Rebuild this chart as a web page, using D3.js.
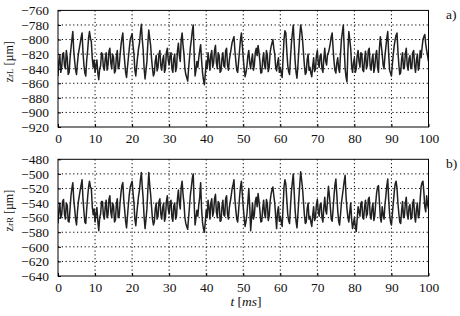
<!DOCTYPE html>
<html>
<head>
<meta charset="utf-8">
<script src="https://cdn.jsdelivr.net/npm/d3@7/dist/d3.min.js"></script>
<style>
  html, body { margin: 0; padding: 0; background: #fff; }
  svg { display: block; }
  text { font-family: "Liberation Serif", "DejaVu Serif", serif; fill: #111; }
</style>
</head>
<body>
<svg id="chart" width="460" height="316"></svg>
<script>
// time step of the samples (ms)
const timeStep = 0.25;

// z_rL samples (µm), t = 0 ... 100 ms every 0.25 ms
const zrL = [
  -850,-830,-822,-845,-838,-820,-818,-836,-840,-815,-825,-848,-845,-826,-812,-800,-789,-815,-830,-842,
  -848,-832,-820,-812,-805,-797,-791,-818,-835,-846,-850,-828,-815,-798,-789,-798,-803,-826,-838,-828,
  -845,-835,-828,-846,-855,-840,-836,-818,-820,-838,-842,-826,-818,-842,-835,-816,-812,-832,-840,-820,
  -825,-846,-843,-824,-815,-840,-837,-822,-808,-798,-791,-815,-830,-845,-852,-838,-825,-812,-800,-796,
  -792,-808,-820,-842,-850,-836,-823,-812,-805,-790,-779,-800,-815,-840,-854,-842,-830,-805,-787,-798,
  -808,-826,-840,-850,-846,-830,-822,-843,-838,-820,-815,-836,-842,-828,-822,-845,-840,-818,-812,-828,
  -835,-822,-818,-840,-845,-826,-820,-844,-838,-815,-805,-822,-830,-800,-791,-808,-820,-840,-848,-852,
  -857,-840,-825,-810,-800,-788,-780,-820,-850,-842,-830,-838,-825,-815,-807,-828,-845,-855,-862,-848,
  -830,-840,-818,-828,-842,-822,-815,-838,-832,-815,-808,-832,-840,-818,-822,-845,-843,-826,-818,-836,
  -838,-815,-812,-835,-842,-828,-820,-812,-804,-800,-796,-815,-830,-842,-845,-830,-815,-800,-791,-808,
  -825,-840,-851,-845,-836,-822,-815,-832,-840,-828,-820,-842,-835,-818,-812,-822,-808,-818,-830,-846,
  -845,-828,-818,-836,-840,-815,-822,-844,-838,-818,-810,-805,-800,-812,-820,-838,-843,-832,-825,-845,
  -838,-846,-852,-825,-800,-788,-791,-815,-835,-844,-848,-825,-805,-792,-780,-805,-830,-845,-853,-836,
  -815,-795,-780,-788,-800,-818,-835,-848,-845,-828,-820,-842,-838,-846,-851,-836,-825,-844,-840,-822,
  -815,-832,-838,-822,-820,-840,-845,-826,-812,-830,-835,-820,-818,-812,-805,-796,-791,-812,-830,-842,
  -846,-832,-825,-840,-845,-820,-800,-790,-780,-812,-840,-852,-858,-815,-789,-800,-812,-836,-845,-832,
  -825,-845,-840,-822,-815,-830,-838,-818,-820,-842,-844,-826,-816,-840,-835,-815,-812,-836,-842,-828,
  -820,-845,-838,-822,-815,-838,-845,-812,-796,-808,-820,-835,-840,-822,-810,-798,-789,-820,-842,-846,
  -850,-834,-820,-808,-800,-794,-791,-816,-835,-848,-845,-826,-818,-840,-838,-820,-812,-835,-842,-826,
  -822,-840,-838,-818,-815,-836,-845,-828,-820,-842,-836,-815,-825,-812,-800,-796,-793,-806,-815,-822,
  -830
];

// z_rR samples (µm), t = 0 ... 100 ms every 0.25 ms
const zrR = [
  -568,-550,-540,-560,-556,-538,-535,-555,-562,-540,-543,-565,-566,-548,-530,-520,-512,-535,-548,-562,
  -570,-552,-538,-530,-522,-515,-508,-535,-552,-566,-568,-548,-532,-518,-510,-518,-520,-545,-556,-548,
  -566,-555,-546,-565,-578,-560,-555,-538,-538,-556,-562,-545,-536,-560,-556,-535,-530,-552,-560,-540,
  -544,-566,-563,-542,-534,-560,-558,-540,-526,-516,-512,-535,-550,-565,-574,-558,-542,-528,-518,-514,
  -510,-526,-540,-562,-571,-556,-542,-530,-522,-508,-498,-518,-535,-560,-575,-562,-548,-522,-498,-515,
  -528,-545,-562,-570,-566,-548,-540,-562,-558,-538,-534,-555,-562,-546,-540,-565,-560,-538,-530,-548,
  -555,-540,-536,-560,-565,-544,-540,-562,-557,-534,-522,-540,-548,-518,-510,-528,-540,-560,-568,-572,
  -576,-560,-544,-528,-518,-506,-500,-540,-570,-560,-550,-558,-542,-532,-512,-548,-566,-575,-580,-566,
  -550,-560,-536,-546,-562,-540,-534,-558,-552,-534,-528,-552,-560,-538,-540,-565,-564,-546,-536,-556,
  -558,-534,-530,-555,-562,-546,-538,-530,-520,-515,-508,-535,-550,-562,-566,-550,-532,-518,-510,-528,
  -545,-560,-572,-565,-555,-538,-520,-545,-578,-560,-540,-562,-556,-538,-532,-545,-527,-538,-550,-566,
  -565,-548,-536,-555,-560,-535,-540,-564,-558,-538,-528,-522,-518,-530,-540,-558,-575,-552,-545,-565,
  -558,-566,-572,-545,-518,-508,-514,-535,-555,-564,-568,-545,-524,-512,-500,-525,-550,-565,-574,-556,
  -535,-515,-497,-508,-520,-538,-556,-568,-566,-548,-540,-562,-558,-566,-572,-556,-545,-564,-560,-542,
  -535,-552,-558,-542,-540,-560,-566,-546,-532,-550,-555,-535,-517,-530,-545,-562,-565,-548,-530,-515,
  -507,-528,-550,-565,-570,-556,-540,-530,-520,-510,-502,-532,-548,-560,-566,-552,-540,-562,-575,-568,
  -560,-572,-579,-562,-545,-552,-558,-540,-538,-560,-562,-545,-536,-558,-555,-535,-532,-556,-562,-548,
  -540,-564,-558,-540,-526,-518,-516,-538,-560,-566,-545,-556,-562,-542,-530,-516,-507,-535,-555,-566,
  -570,-555,-540,-525,-514,-510,-520,-540,-555,-566,-568,-550,-538,-560,-558,-540,-532,-555,-562,-545,
  -542,-562,-560,-540,-535,-558,-566,-548,-540,-560,-556,-535,-518,-512,-510,-525,-545,-552,-530,-542,
  -548
];

// axis ticks
const xTicks = [0, 10, 20, 30, 40, 50, 60, 70, 80, 90, 100];
const yTicksL = [-760, -780, -800, -820, -840, -860, -880, -900, -920];
const yTicksR = [-480, -500, -520, -540, -560, -580, -600, -620, -640];

// panel descriptions
const panels = [
  { values: zrL, ticks: yTicksL, tag: "a)", sub: "rL", top: 10.4, bottom: 127 },
  { values: zrR, ticks: yTicksR, tag: "b)", sub: "rR", top: 159.3, bottom: 276 }
];

const svg = d3.select("#chart");
svg.append("rect").attr("width", 460).attr("height", 316).attr("fill", "#fff");

const left = 58, right = 428.5;
const x = d3.scaleLinear().domain([0, 100]).range([left, right]);

panels.forEach((p, pi) => {
  const y = d3.scaleLinear().domain(d3.extent(p.ticks)).range([p.bottom, p.top]);
  const g = svg.append("g");

  // grid
  g.append("g").selectAll("line")
    .data(xTicks.slice(1, -1)).join("line")
    .attr("x1", d => x(d)).attr("x2", d => x(d))
    .attr("y1", p.top).attr("y2", p.bottom)
    .attr("stroke", "#000").attr("stroke-width", 1)
    .attr("stroke-dasharray", "1.2,2.6");
  g.append("g").selectAll("line")
    .data(p.ticks.slice(1, -1)).join("line")
    .attr("x1", left).attr("x2", right)
    .attr("y1", d => y(d)).attr("y2", d => y(d))
    .attr("stroke", "#000").attr("stroke-width", 1)
    .attr("stroke-dasharray", "1.2,2.6");

  // signal
  const clipId = "clip" + pi;
  svg.append("clipPath").attr("id", clipId).append("rect")
    .attr("x", left).attr("y", p.top).attr("width", right - left).attr("height", p.bottom - p.top);
  const line = d3.line().x((d, i) => x(i * timeStep)).y(d => y(d));
  g.append("path").datum(p.values)
    .attr("clip-path", `url(#${clipId})`)
    .attr("d", line)
    .attr("fill", "none").attr("stroke", "#202020")
    .attr("stroke-width", 1.5).attr("stroke-linejoin", "round");

  // axes (tick labels)
  const yAxis = d3.axisLeft(y).tickValues(p.ticks).tickSize(-3).tickPadding(9).tickFormat(d3.format("d"));
  const ya = g.append("g").attr("transform", `translate(${left},0)`).call(yAxis);
  const xAxis = d3.axisBottom(x).tickValues(xTicks).tickSize(-3).tickPadding(6).tickFormat(d3.format("d"));
  const xa = g.append("g").attr("transform", `translate(0,${p.bottom})`).call(xAxis);
  [ya, xa].forEach(a => {
    a.select(".domain").remove();
    a.selectAll("text").style("font-family", '"Liberation Serif", serif').style("font-size", "13.5px").attr("fill", "#111");
    a.selectAll("line").attr("stroke", "#000");
  });
  xa.selectAll("text").attr("dy", "0.72em");

  // frame
  g.append("rect").attr("x", left).attr("y", p.top)
    .attr("width", right - left).attr("height", p.bottom - p.top)
    .attr("fill", "none").attr("stroke", "#000").attr("stroke-width", 1);

  // panel tag
  g.append("text").attr("x", 446).attr("y", p.top + 9).attr("font-size", 13.5).text(p.tag);

  // y label
  const cy = (p.top + p.bottom) / 2 - 7;
  const yl = g.append("text")
    .attr("transform", `translate(13,${cy}) rotate(-90)`)
    .attr("text-anchor", "middle").attr("font-size", 12);
  yl.append("tspan").text("z");
  yl.append("tspan").attr("font-size", 9).text(p.sub);
  yl.append("tspan").text(" [µm]");
});

// x label
const xl = svg.append("text").attr("x", 246).attr("y", 306).attr("text-anchor", "middle").attr("font-size", 13.5);
xl.append("tspan").attr("font-style", "italic").text("t");
xl.append("tspan").text(" [");
xl.append("tspan").attr("font-style", "italic").text("ms");
xl.append("tspan").text("]");
</script>
</body>
</html>
